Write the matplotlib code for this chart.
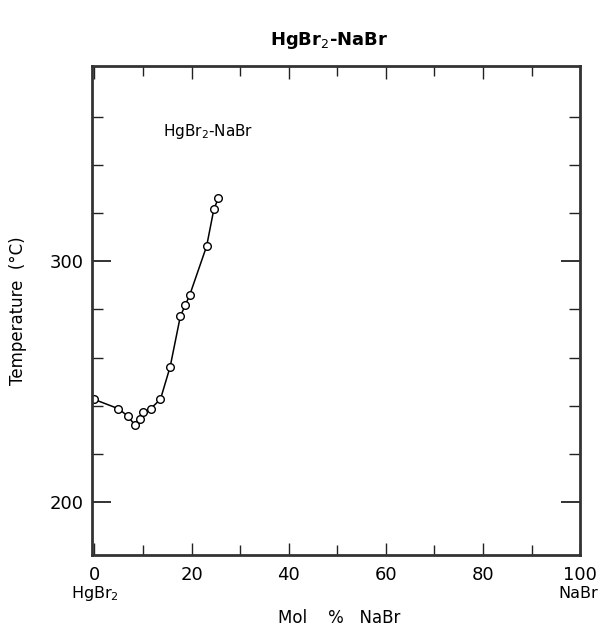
import matplotlib
matplotlib.use("Agg")
import matplotlib.pyplot as plt
from matplotlib.ticker import FixedLocator

mol_pct_nabr = [0.0, 4.9, 6.9, 8.3, 9.3, 10.0, 11.6, 13.6, 15.6, 17.7, 18.7, 19.6, 23.1, 24.6, 25.5]
temperature_c = [242.6, 238.8, 235.7, 232.0, 234.3, 237.3, 238.8, 242.7, 256.2, 277.2, 281.7, 285.8, 306.2, 321.6, 326.0]

x_ticks = [0, 20, 40, 60, 80, 100]
x_minor = [10, 30, 50, 70, 90]
y_ticks = [200, 300]
y_minor = [220, 240, 260, 280, 320, 340, 360]

plt.rcParams['font.family'] = ['DejaVu Sans']

fig = plt.figure(figsize=(6.05, 6.28), dpi=100)
ax = fig.add_axes([0.152, 0.116, 0.807, 0.779])

ax.plot(mol_pct_nabr, temperature_c, color='black', lw=1.1, marker='o',
        markersize=5.5, markerfacecolor='white', markeredgecolor='black', markeredgewidth=1.0)

ax.set_xlim(-0.5, 100)
ax.set_ylim(178, 381)

ax.xaxis.set_major_locator(FixedLocator(x_ticks))
ax.xaxis.set_minor_locator(FixedLocator(x_minor))
ax.yaxis.set_major_locator(FixedLocator(y_ticks))
ax.yaxis.set_minor_locator(FixedLocator(y_minor))

ax.tick_params(which='both', direction='in', top=True, right=True, color='#222222')
ax.tick_params(axis='y', which='major', length=14, width=1.3, labelsize=13, pad=6)
ax.tick_params(axis='y', which='minor', length=8, width=1.0)
ax.tick_params(axis='x', which='major', length=9, width=1.0, labelsize=13, pad=8)
ax.tick_params(axis='x', which='minor', length=7, width=1.0)

for s in ax.spines.values():
    s.set_linewidth(2.0)
    s.set_color('#333333')

ax.text(0.145, 0.865, 'HgBr$_2$-NaBr', transform=ax.transAxes, fontsize=11, ha='left', va='center')

fig.text(0.545, 0.935, 'HgBr$_2$-NaBr', fontsize=13, fontweight='bold', ha='center', va='center')
fig.text(0.03, 0.505, 'Temperature  (°C)', rotation=90, fontsize=12, ha='center', va='center')
fig.text(0.56, 0.016, 'Mol    %   NaBr', fontsize=12, ha='center', va='center')
fig.text(0.157, 0.055, 'HgBr$_2$', fontsize=11.5, ha='center', va='center')
fig.text(0.955, 0.055, 'NaBr', fontsize=11.5, ha='center', va='center')

fig.savefig('out.png', dpi=100)
